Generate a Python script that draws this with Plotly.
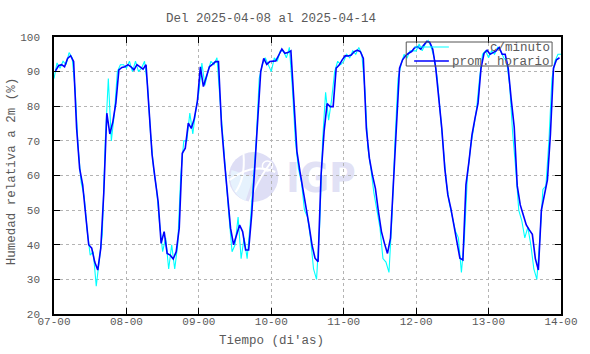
import base64
import pandas as pd
import plotly.graph_objects as go

# ---------------- data ----------------
title_text = "Del 2025-04-08 al 2025-04-14"
x_title = "Tiempo (di'as)"
y_title = "Humedad relativa a 2m (%)"
series_names = ["c/minuto", "prom. horario"]

# hourly means (prom. horario), one value per hour, plotted at hh:30
hourly_d07 = [90.2, 91.7, 92.0, 91.4, 93.8, 94.6, 92.9, 73.6, 62.0, 57.3, 48.6, 40.0,
              39.0, 35.0, 32.7, 39.0, 55.0, 78.0, 72.0, 75.5, 81.0, 90.5, 91.2, 91.4]
hourly_d08 = [92.0, 91.4, 90.5, 92.0, 91.4, 90.7, 92.0, 80.4, 66.0, 59.0, 52.5, 40.4,
              43.8, 37.5, 37.0, 35.9, 38.0, 44.8, 66.4, 67.9, 75.1, 73.6, 76.5, 81.3]
hourly_d09 = [91.4, 85.7, 88.5, 91.4, 92.1, 92.9, 92.9, 74.6, 64.0, 54.4, 44.8, 40.0,
              42.8, 45.7, 43.8, 38.5, 38.5, 48.6, 62.0, 75.5, 90.0, 93.8, 92.1, 92.9]
hourly_d10 = [92.9, 93.1, 94.8, 96.5, 95.3, 95.5, 96.0, 79.4, 66.9, 61.1, 56.3, 51.5,
              45.7, 39.9, 36.1, 35.1, 60.2, 72.7, 80.8, 79.9, 79.9, 91.0, 91.9, 93.4]
hourly_d11 = [94.6, 94.5, 94.8, 95.8, 96.2, 95.8, 93.8, 73.6, 65.0, 60.2, 56.3, 49.6,
              43.8, 40.4, 37.5, 41.9, 57.3, 76.5, 91.0, 93.4, 94.6, 95.3, 95.8, 96.9]
hourly_d12 = [97.2, 96.5, 97.5, 98.7, 98.5, 96.5, 91.0, 82.3, 73.6, 62.0, 54.4, 50.5,
              45.7, 41.4, 36.1, 35.6, 57.3, 64.0, 71.7, 76.5, 80.8, 91.0, 95.3, 96.2]
hourly_d13 = [95.0, 95.5, 96.0, 97.0, 95.0, 95.0, 91.0, 82.0, 74.0, 57.0, 51.5, 48.6,
              45.7, 44.3, 43.0, 36.0, 32.7, 50.0, 54.4, 58.7, 72.0, 91.0, 93.4, 94.0]

minute_d07 = [88, 92.5, 91, 93, 92, 95.5, 94, 85, 68, 58, 54, 44,
              37, 38, 28, 35, 43, 70, 88, 70, 78, 90, 92, 92]
minute_d08 = [91, 93, 90, 93, 90, 91, 93, 86, 72, 62, 56, 46,
              38, 42, 33, 40, 33, 40, 60, 70, 70, 78, 72, 79]
minute_d09 = [84, 92.5, 86, 90, 93, 92, 94, 82, 70, 58, 48, 38,
              40, 48, 36, 42, 36, 46, 58, 70, 88, 92, 94, 92]
minute_d10 = [90, 94, 93, 96, 96, 94, 97, 85, 70, 62, 58, 50,
              48, 42, 33, 30, 45, 70, 84, 76, 82, 90, 93, 92]
minute_d11 = [93, 95, 94, 96, 95, 97, 95, 85, 68, 62, 55, 50,
              45, 36, 35, 32, 48, 70, 88, 92, 95, 94, 96, 96]
minute_d12 = [96, 98, 96, 98, 99, 97, 94, 88, 78, 70, 58, 52,
              48, 44, 42, 32, 42, 60, 68, 74, 79, 88, 95, 96]
minute_d13 = [94, 96, 95, 97, 96, 94, 93, 86, 72, 62, 50, 47,
              42, 45, 40, 33, 30, 42, 56, 57, 70, 88, 93, 95, 95]

start_day = "2025-04-07"
end_day = "2025-04-14"
y_range = [20, 100]

# ---------------- build series ----------------
hourly = (hourly_d07 + hourly_d08 + hourly_d09 + hourly_d10 +
          hourly_d11 + hourly_d12 + hourly_d13)
minute = (minute_d07 + minute_d08 + minute_d09 + minute_d10 +
          minute_d11 + minute_d12 + minute_d13)
t_hourly = pd.date_range(start_day + " 00:30", periods=len(hourly), freq="h")
t_minute = pd.date_range(start_day + " 00:00", periods=len(minute), freq="h")

FONT = "Liberation Mono, Courier New, monospace"
TXT = "#5a5a5a"

fig = go.Figure()
fig.add_trace(go.Scatter(x=t_minute, y=minute, mode="lines", name=series_names[0],
                         line=dict(color="#00ffff", width=1.1), showlegend=False))
fig.add_trace(go.Scatter(x=t_hourly, y=hourly, mode="lines", name=series_names[1],
                         line=dict(color="#0000ff", width=1.6), showlegend=False))

axis_common = dict(showline=True, linecolor="black", linewidth=1.6, mirror="allticks",
                   ticks="inside", ticklen=6, tickcolor="black", tickwidth=1.2,
                   showgrid=True, gridcolor="#b4b4b4", griddash="dot", gridwidth=1,
                   zeroline=False, tickfont=dict(family=FONT, size=11, color=TXT))

fig.update_xaxes(type="date", range=[start_day, end_day], dtick=86400000,
                 tick0=start_day, tickformat="%d-%H", ticklabelstandoff=-4, **axis_common)
fig.update_yaxes(range=y_range, dtick=10, ticklabelstandoff=10, **axis_common)

# watermark logo (drawn below the data)
svg = """<svg xmlns='http://www.w3.org/2000/svg' width='140' height='55' viewBox='0 0 140 55'>
<circle cx='30' cy='27' r='25' fill='#dedef5'/>
<path d='M8 20 A25 25 0 0 0 22 51 L30 27 Z' fill='#e6f2fd'/>
<path d='M6 30 Q30 12 52 22' stroke='white' stroke-width='2' fill='none'/>
<path d='M12 42 Q22 28 20 4' stroke='white' stroke-width='2' fill='none'/>
<path d='M26 52 Q34 30 48 12' stroke='white' stroke-width='2' fill='none'/>
<circle cx='44' cy='16' r='5' fill='none' stroke='white' stroke-width='1.5'/>
<text x='63' y='42' font-family='DejaVu Sans' font-weight='bold' font-size='40'
 textLength='70' lengthAdjust='spacingAndGlyphs' fill='#e1e1f5'>IGP</text>
</svg>"""
img_src = "data:image/svg+xml;base64," + base64.b64encode(svg.encode()).decode()

L, R, T, B, W, H = 54, 25, 37, 40, 590, 354
pw, ph = W - L - R, H - T - B
def px(x):
    return (x - L) / pw
def py(y):
    return (H - B - y) / ph

fig.add_layout_image(dict(source=img_src, xref="paper", yref="paper",
                          x=px(225), y=py(150), sizex=140 / pw, sizey=55 / ph,
                          xanchor="left", yanchor="top", sizing="stretch", layer="below"))

# legend drawn manually (gnuplot style key)
shapes = [
    dict(type="rect", xref="paper", yref="paper", x0=px(409), x1=px(556), y0=py(66), y1=py(42),
         line=dict(color="#555555", width=1)),
    dict(type="line", xref="paper", yref="paper", x0=px(417), x1=px(452), y0=py(47), y1=py(47),
         line=dict(color="#00ffff", width=1.1)),
    dict(type="line", xref="paper", yref="paper", x0=px(417), x1=px(452), y0=py(61), y1=py(61),
         line=dict(color="#0000ff", width=1.6)),
]
annotations = [
    dict(text=series_names[0], xref="paper", yref="paper", x=px(556), y=py(48),
         xanchor="right", yanchor="middle", showarrow=False,
         font=dict(family=FONT, size=12.5, color=TXT)),
    dict(text=series_names[1], xref="paper", yref="paper", x=px(556), y=py(62),
         xanchor="right", yanchor="middle", showarrow=False,
         font=dict(family=FONT, size=12.5, color=TXT)),
    dict(text=title_text, xref="paper", yref="paper", x=px(273), y=py(19),
         xanchor="center", yanchor="middle", showarrow=False,
         font=dict(family=FONT, size=12.5, color=TXT)),
    dict(text=x_title, xref="paper", yref="paper", x=px(273), y=py(341),
         xanchor="center", yanchor="middle", showarrow=False,
         font=dict(family=FONT, size=12.5, color=TXT)),
    dict(text=y_title, xref="paper", yref="paper", x=px(12), y=py(171),
         xanchor="center", yanchor="middle", showarrow=False, textangle=-90,
         font=dict(family=FONT, size=12.5, color=TXT)),
]

fig.update_layout(width=W, height=H, margin=dict(l=L, r=R, t=T, b=B),
                  paper_bgcolor="white", plot_bgcolor="white",
                  shapes=shapes, annotations=annotations, showlegend=False)

fig.write_html("out.html")
